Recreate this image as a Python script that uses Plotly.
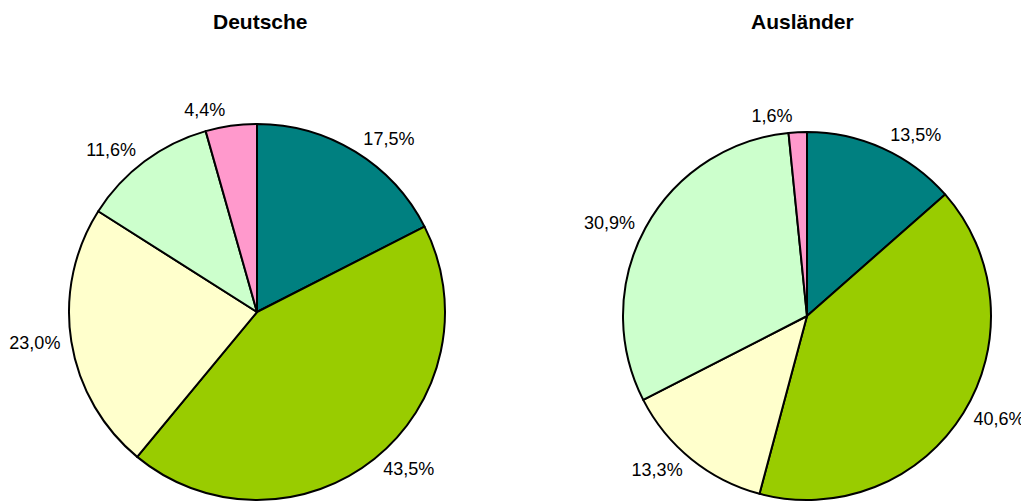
import plotly.graph_objects as go

groups = ["Deutsche", "Ausländer"]
categories = ["A", "B", "C", "D", "E"]
deutsche = [17.5, 43.5, 23.0, 11.6, 4.4]
auslaender = [13.5, 40.6, 13.3, 30.9, 1.6]
colors = ["#008080", "#99CC00", "#FFFFCC", "#CCFFCC", "#FF99CC"]

W, H = 1029, 520  # a bit taller than the window so the label pie fits
OFF = 8  # body margin of the page
PAD = 6  # extra distance of the labels from the pie edge

fig = go.Figure()

# pixel boxes for the two pies (left, right, top, bottom) in window coords
boxes = [(69, 445, 124, 500), (623, 991, 132, 500)]


def dom(l, r, t, b):
    l, r, t, b = l - OFF, r - OFF, t - OFF, b - OFF
    return dict(x=[l / W, r / W], y=[1 - b / H, 1 - t / H])


for vals, box in zip([deutsche, auslaender], boxes):
    l, r, t, b = box
    fig.add_trace(go.Pie(
        labels=categories,
        values=vals,
        sort=False,
        direction="clockwise",
        rotation=0,
        marker=dict(colors=colors, line=dict(color="black", width=2)),
        textinfo="none",
        hoverinfo="skip",
        showlegend=False,
        domain=dom(l, r, t, b),
    ))
    # invisible slightly larger pie only for placing the labels
    fig.add_trace(go.Pie(
        labels=categories,
        values=vals,
        sort=False,
        direction="clockwise",
        rotation=0,
        marker=dict(colors=["rgba(0,0,0,0)"] * len(vals), line=dict(width=0)),
        texttemplate="%{value:.1f}%",
        textposition="outside",
        outsidetextfont=dict(family="Liberation Sans, Arial", size=18, color="black"),
        hoverinfo="skip",
        showlegend=False,
        automargin=False,
        domain=dom(l - PAD, r + PAD, t - PAD, b + PAD),
    ))

titles_x = [260, 802]
for name, x in zip(groups, titles_x):
    fig.add_annotation(
        text="<b>" + name + "</b>", x=(x - OFF) / W, y=1 - (21 - OFF) / H,
        xref="paper", yref="paper", showarrow=False,
        xanchor="center", yanchor="middle",
        font=dict(family="Liberation Sans, Arial", size=21, color="black"),
    )

fig.update_layout(
    width=W, height=H,
    margin=dict(l=0, r=0, t=0, b=0),
    paper_bgcolor="white",
    plot_bgcolor="white",
    separators=",.",
)

fig.write_html("out.html")
